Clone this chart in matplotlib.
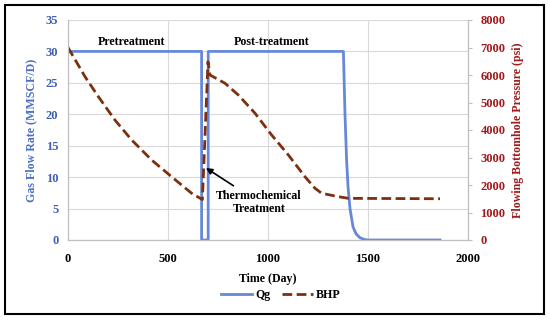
import matplotlib
matplotlib.use('Agg')
import matplotlib.pyplot as plt
from matplotlib.patches import Rectangle

plt.rcParams['font.family'] = ['Liberation Serif', 'DejaVu Serif']
plt.rcParams['font.weight'] = 'bold'
plt.rcParams['axes.labelweight'] = 'bold'

# gas rate, MMSCF/D
qg_days = [0, 668, 668, 701, 701, 1377, 1385, 1393, 1400, 1410, 1425, 1440, 1460, 1485, 1500, 1860]
qg_vals = [30, 30, 0, 0, 30, 30, 20, 12.7, 8.5, 5, 2.1, 1, 0.35, 0.05, 0, 0]

# flowing bottomhole pressure, psi
bhp_days = [0, 85, 152, 235, 318, 418, 518, 618, 672, 700, 710, 785, 852, 935, 1018,
            1102, 1185, 1235, 1268, 1352, 1402, 1860]
bhp_vals = [7000, 5940, 5210, 4360, 3640, 2910, 2300, 1700, 1470, 6480, 6000, 5700,
            5270, 4610, 3820, 3090, 2300, 1880, 1700, 1575, 1515, 1500]

blue = '#6688D8'
blue_txt = '#3F5FB0'
brown = '#7B3010'
red_txt = '#9E1B1B'
fs = 8.6
tfs = 9

fig = plt.figure(figsize=(5.5, 3.2), dpi=100)
ax = fig.add_axes([68/550, 80/320, 400/550, 220/320])
ax2 = ax.twinx()

ax.plot(qg_days, qg_vals, color=blue, lw=2, label='Qg')
ax2.plot(bhp_days, bhp_vals, color=brown, lw=2, ls=(0, (3.5, 1.6)), label='BHP')

ax.set_xlim(0, 2000)
ax.set_ylim(0, 35)
ax2.set_ylim(0, 8000)
ax.set_xticks(range(0, 2001, 500))
ax.set_yticks(range(0, 36, 5))
ax2.set_yticks(range(0, 8001, 1000))
ax.grid(True, color='#D9D9D9', lw=0.8)
ax.set_axisbelow(True)

for a in (ax, ax2):
    a.spines['top'].set_visible(False)
    for s in ('left', 'right', 'bottom'):
        a.spines[s].set_color('#BFBFBF')
ax.tick_params(axis='y', length=0, labelsize=tfs, labelcolor=blue_txt, pad=7)
ax.tick_params(axis='x', length=0, labelsize=tfs, pad=9)
ax2.tick_params(axis='y', length=3, color='#BFBFBF', labelsize=tfs, labelcolor=red_txt, pad=6)
for lab in ax.get_xticklabels() + ax.get_yticklabels() + ax2.get_yticklabels():
    lab.set_fontweight('bold')

ax.set_xlabel('Time (Day)', fontsize=fs, fontweight='bold')
ax.xaxis.set_label_coords(0.5, -0.15)
ax.set_ylabel('Gas Flow Rate (MMSCF/D)', fontsize=fs, fontweight='bold', color='#4A6FC4')
ax.yaxis.set_label_coords(-0.0775, 0.5)
ax2.set_ylabel('Flowing Bottomhole Pressure (psi)', fontsize=fs, fontweight='bold', color=red_txt)
ax2.yaxis.set_label_coords(1.11, 0.5)

ax.text(320, 31.5, 'Pretreatment', ha='center', va='center', fontsize=fs, fontweight='bold')
ax.text(1020, 31.5, 'Post-treatment', ha='center', va='center', fontsize=fs, fontweight='bold')
ax.annotate('Thermochemical\nTreatment', xy=(690, 11.45), xytext=(955, 6.0),
            ha='center', va='center', fontsize=fs, fontweight='bold', linespacing=1.05,
            arrowprops=dict(arrowstyle='-|>', color='black', lw=1.2,
                            mutation_scale=9, shrinkA=2, shrinkB=0))

h1, l1 = ax.get_legend_handles_labels()
h2, l2 = ax2.get_legend_handles_labels()
fig.legend(h1 + h2, l1 + l2, loc='center', bbox_to_anchor=(281/550, 1 - 295/320),
           ncol=2, frameon=False, handlelength=2.6, columnspacing=0.9,
           handletextpad=0.3, prop={'weight': 'bold', 'size': fs})

fig.patches.append(Rectangle((5/550, 6/320), 539/550, 309/320, transform=fig.transFigure,
                             fill=False, lw=1.5, edgecolor='black'))

fig.savefig('out.png', dpi=100)
